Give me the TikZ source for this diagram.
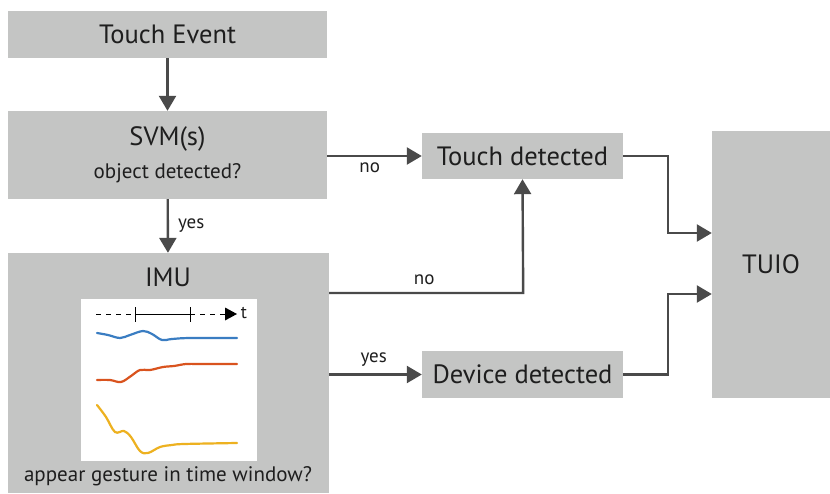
\documentclass[tikz,border=0pt]{standalone}
\usepackage{fontspec}
\setmainfont{PT Sans}
\usepackage{xcolor}
\usetikzlibrary{arrows.meta}

\definecolor{boxgray}{HTML}{C4C5C4}
\definecolor{arrgray}{HTML}{4A4A4A}
\definecolor{txtgray}{HTML}{1E1E1E}
\definecolor{sigblue}{HTML}{3A7DC2}
\definecolor{sigred}{HTML}{D9531E}
\definecolor{sigyellow}{HTML}{EDB120}

\tikzset{
  box/.style={fill=boxgray, inner sep=0pt, text=txtgray, font=\fontsize{26.5}{30}\selectfont},
  flow/.style={draw=arrgray, line width=2.4pt, -{Triangle[length=15pt, width=17pt]}},
  lbl/.style={text=txtgray, font=\fontsize{19}{22}\selectfont, inner sep=0pt},
  sig/.style={line width=2.2pt, line cap=round}
}

\begin{document}
\begin{tikzpicture}[x=1pt, y=-1pt]
  \useasboundingbox (0,0) rectangle (830,493);

  % boxes
  \node[box, minimum width=319pt, minimum height=47pt] (event) at (167.5,34.5) {Touch Event};
  \node[box, minimum width=319pt, minimum height=88pt, align=center] (svm) at (167.5,155)
    {SVM(s)\\[3pt]{\fontsize{21}{24}\selectfont object detected?}};
  \node[box, minimum width=321pt, minimum height=240pt] (imu) at (168.5,373) {};
  \node[box, minimum width=201pt, minimum height=46pt] (touch) at (522.5,156) {Touch detected};
  \node[box, minimum width=201pt, minimum height=47pt] (device) at (522.5,374.5) {Device detected};
  \node[box, minimum width=118pt, minimum height=267pt] (tuio) at (771,264.5) {TUIO};

  % inside the IMU box
  \node[box, fill=none] (imutitle) at (168,277) {IMU};
  \node[lbl, font=\fontsize{21}{24}\selectfont] (imuask) at (168,476) {appear gesture in time window?};
  \node[fill=white, minimum width=176pt, minimum height=162pt, inner sep=0pt] (panel) at (169,380) {};

  % time axis
  \draw[line width=0.8pt, dash pattern=on 5pt off 5pt] (96,314) -- (135,314);
  \draw[line width=0.8pt] (135,307) -- (135,322) (135,314) -- (190,314) (190,307) -- (190,322);
  \draw[line width=0.8pt, dash pattern=on 5pt off 5pt] (190,314) -- (225,314);
  \fill (225,307.5) -- (237,314) -- (225,320.5) -- cycle;
  \node[lbl, font=\fontsize{18}{20}\selectfont] (taxis) at (244,313) {t};

  % signals
  \draw[sig, sigblue] plot[smooth, tension=0.6] coordinates
    {(97,333) (108,335) (120,338) (130,335) (143,331) (152,334) (162,340) (172,339) (190,338) (237,338)};
  \draw[sig, sigred] plot[smooth, tension=0.6] coordinates
    {(97,380) (110,380) (121,382) (131,376) (140,370) (150,370) (163,367) (174,366) (186,364) (200,364) (237,364)};
  \draw[sig, sigyellow] plot[smooth, tension=0.6] coordinates
    {(97,405) (106,417) (115,432) (124,431) (131,437) (140,451) (148,453) (160,447) (172,445) (184,444) (237,443)};

  % connectors
  \draw[flow] (event) -- (svm);
  \draw[flow] (svm) -- node[lbl, right=9pt] (yes1) {yes} (imu);
  \draw[flow] (svm.east |- touch.west) -- node[lbl, below=6pt, pos=0.45] (no1) {no} (touch.west);
  \draw[flow] ([yshift=80pt]imu.east) -- node[lbl, above=7pt, pos=0.49] (no2) {no} ++(194,0) -- (touch.south);
  \draw[flow] (imu.east |- device.west) -- node[lbl, above=7pt, pos=0.48] (yes2) {yes} (device.west);
  \draw[flow] (touch.east) -- ++(45,0) |- ([yshift=31.5pt]tuio.west);
  \draw[flow] (device.east) -- ++(45,0) |- ([yshift=-29.5pt]tuio.west);
\end{tikzpicture}
\end{document}
